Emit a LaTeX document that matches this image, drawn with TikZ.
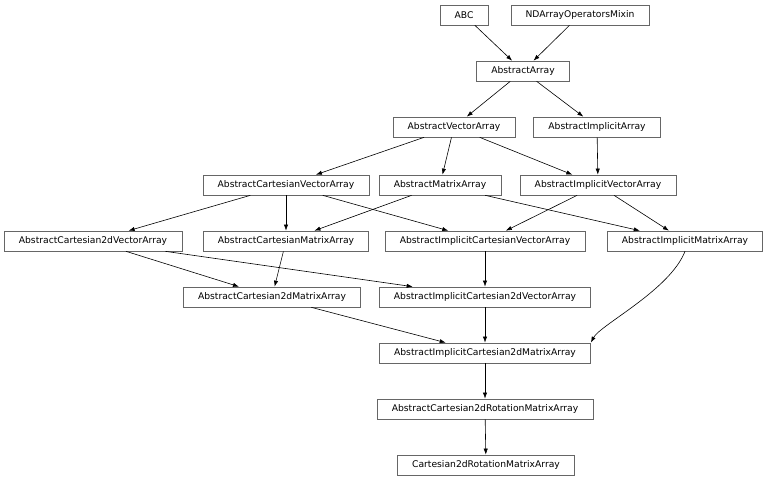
\documentclass[tikz,border=0pt]{standalone}
\usepackage{fontspec}
\setmainfont{DejaVu Sans}
\usetikzlibrary{arrows.meta}
\begin{document}
\begin{tikzpicture}[x=0.75pt,y=-0.75pt,
  cls/.style={draw=black!60,line width=0.5pt,font=\fontsize{6.9}{8}\selectfont,inner xsep=11pt,minimum height=15pt,anchor=center},
  edge/.style={-{Latex[length=4.5pt,width=3.2pt]},line width=0.45pt}]
\useasboundingbox (0,0) rectangle (768,481);
\node[cls] (abc) at (464,15) {ABC};
\node[cls] (nd) at (580,15) {NDArrayOperatorsMixin};
\node[cls] (aa) at (523,71) {AbstractArray};
\node[cls] (ava) at (454,127) {AbstractVectorArray};
\node[cls] (aia) at (597,127) {AbstractImplicitArray};
\node[cls] (acva) at (286,185) {AbstractCartesianVectorArray};
\node[cls] (ama) at (440,185) {AbstractMatrixArray};
\node[cls] (aiva) at (598,185) {AbstractImplicitVectorArray};
\node[cls] (ac2va) at (93,241) {AbstractCartesian2dVectorArray};
\node[cls] (acma) at (286,241) {AbstractCartesianMatrixArray};
\node[cls] (aicva) at (485,241) {AbstractImplicitCartesianVectorArray};
\node[cls] (aima) at (685,241) {AbstractImplicitMatrixArray};
\node[cls] (ac2ma) at (272,297) {AbstractCartesian2dMatrixArray};
\node[cls] (aic2va) at (485,297) {AbstractImplicitCartesian2dVectorArray};
\node[cls] (aic2ma) at (485,353) {AbstractImplicitCartesian2dMatrixArray};
\node[cls] (ac2rma) at (485,409) {AbstractCartesian2dRotationMatrixArray};
\node[cls] (c2rma) at (486,465) {Cartesian2dRotationMatrixArray};
\draw[edge] (abc) -- (aa);
\draw[edge] (nd) -- (aa);
\draw[edge] (aa) -- (ava);
\draw[edge] (aa) -- (aia);
\draw[edge] (ava) -- (acva);
\draw[edge] (ava) -- (ama);
\draw[edge] (ava) -- (aiva);
\draw[edge] (aia) -- (aiva);
\draw[edge] (acva) -- (ac2va);
\draw[edge] (acva) -- (acma);
\draw[edge] (acva) -- (aicva);
\draw[edge] (ama) -- (acma);
\draw[edge] (ama) -- (aima);
\draw[edge] (aiva) -- (aicva);
\draw[edge] (aiva) -- (aima);
\draw[edge] (ac2va) -- (ac2ma);
\draw[edge] (ac2va) -- (aic2va);
\draw[edge] (acma) -- (ac2ma);
\draw[edge] (aicva) -- (aic2va);
\draw[edge] (ac2ma) -- (aic2ma);
\draw[edge] (aic2va) -- (aic2ma);
\draw[edge] (aima.south) .. controls (670,290) and (600,325) .. (aic2ma.north east);
\draw[edge] (aic2ma) -- (ac2rma);
\draw[edge] (ac2rma) -- (c2rma);
\end{tikzpicture}
\end{document}
